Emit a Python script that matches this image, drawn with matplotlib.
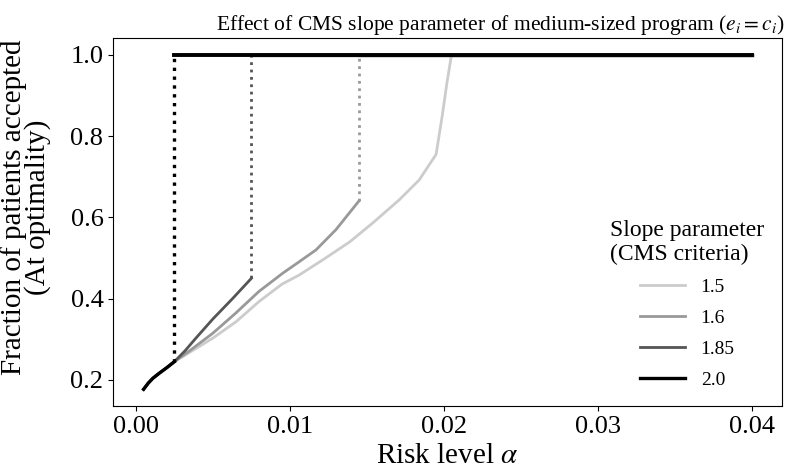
import numpy as np
import matplotlib

matplotlib.use("Agg")
import matplotlib.pyplot as plt

plt.rcParams["font.family"] = ["Liberation Serif", "DejaVu Serif"]
plt.rcParams["mathtext.fontset"] = "stix"

# slope parameter -> (alpha, fraction accepted) before the jump to 1.0
slopes = ["1.5", "1.6", "1.85", "2.0"]
colors = ["#cccccc", "#999999", "#555555", "#000000"]

common_a = [0.0005, 0.0008, 0.0011, 0.0015, 0.0020, 0.0025]
common_f = [0.177, 0.192, 0.204, 0.216, 0.230, 0.245]

a_15 = common_a + [0.0035, 0.005, 0.0065, 0.0080, 0.0095, 0.0106, 0.0122, 0.0139,
                   0.0155, 0.0171, 0.0184, 0.0195, 0.0199, 0.0202, 0.0205]
f_15 = common_f + [0.268, 0.303, 0.343, 0.393, 0.436, 0.458, 0.497, 0.540,
                   0.590, 0.643, 0.692, 0.755, 0.85, 0.93, 1.0]
a_16 = common_a + [0.0035, 0.005, 0.0065, 0.0080, 0.00955, 0.0105, 0.0117, 0.0130, 0.0145]
f_16 = common_f + [0.272, 0.315, 0.365, 0.418, 0.463, 0.488, 0.520, 0.570, 0.641]
a_185 = common_a + [0.0032, 0.0039, 0.0050, 0.0063, 0.0075]
f_185 = common_f + [0.272, 0.303, 0.350, 0.401, 0.450]
a_20 = common_a
f_20 = common_f

alpha_max = 0.04


def main():
    fig, ax = plt.subplots(figsize=(7.86, 4.71), dpi=100)
    series = [(a_15, f_15), (a_16, f_16), (a_185, f_185), (a_20, f_20)]
    widths = [2.0, 2.0, 2.0, 2.4]
    for name, (xs, ys), c, lw in zip(slopes, series, colors, widths):
        ax.plot(xs, ys, "-", color=c, lw=lw, label=name)
        jump = xs[-1]
        if ys[-1] < 1.0:
            ax.plot([jump, jump], [ys[-1], 1.0], ":", color=c, lw=lw)
        ax.plot([jump, alpha_max], [1.0, 1.0], "-", color=c, lw=lw + 0.4)

    ax.set_xticks([0.0, 0.01, 0.02, 0.03, 0.04])
    ax.set_yticks([0.2, 0.4, 0.6, 0.8, 1.0])
    ax.tick_params(labelsize=19)
    ax.set_xlabel(r"Risk level $\alpha$", fontsize=21)
    ax.set_ylabel("Fraction of patients accepted\n(At optimality)", fontsize=21,
                  linespacing=0.85)
    ax.yaxis.set_label_coords(-0.093, 0.54)
    ax.set_title(r"Effect of CMS slope parameter of medium-sized program ($e_i = c_i$)",
                 fontsize=15.5, x=0.578)
    leg = ax.legend(title="Slope parameter\n(CMS criteria)", loc="lower right",
                    bbox_to_anchor=(1.0, 0.0), frameon=False, fontsize=14,
                    title_fontsize=17, handlelength=2.3, labelspacing=0.68)
    leg.get_title().set_multialignment("left")
    fig.subplots_adjust(left=0.144, right=0.995, top=0.919, bottom=0.138)
    fig.savefig("out.png", dpi=100)
    plt.close(fig)


if __name__ == "__main__":
    main()
